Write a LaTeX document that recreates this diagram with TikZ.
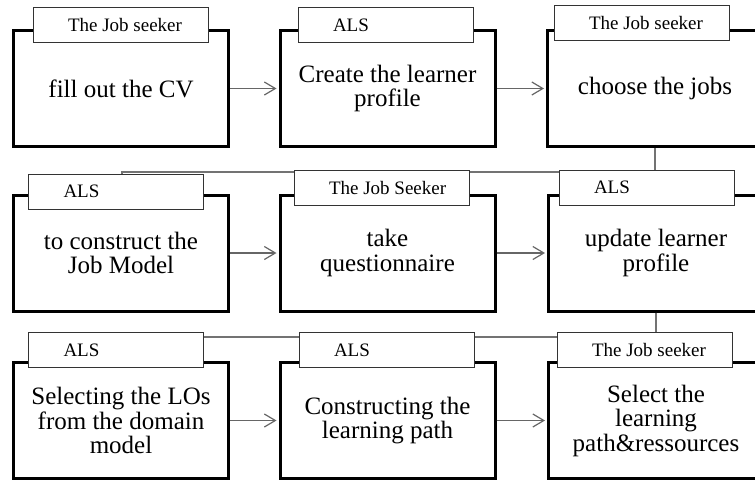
\documentclass[tikz,border=0pt]{standalone}
\usepackage{fontspec}
\setmainfont{Liberation Serif}
\usetikzlibrary{arrows.meta}
\tikzset{
  stepbox/.style={draw, line width=3pt, minimum width=215pt, minimum height=116pt, align=center, inner sep=2pt, font=\fontsize{25}{24.5}\selectfont},
  actor/.style={draw=black!80, line width=0.8pt, fill=white, minimum width=175pt, minimum height=35pt, inner xsep=0pt, font=\fontsize{19}{20}\selectfont},
  flow/.style={draw=black!60, line width=1.2pt, -{Straight Barb[length=11pt,width=13pt]}, shorten >=2pt},
  link/.style={draw=black!55, line width=1.3pt}
}
\newcommand{\who}[1]{\makebox[105pt][l]{#1}}
\begin{document}
\begin{tikzpicture}[x=1pt,y=-1pt]
    \clip (0,0) rectangle (755,482);
    \fill[white] (0,0) rectangle (755,482);

    %steps
    \node[stepbox] (box1) at (121,88.5) {fill out the CV};
    \node[stepbox] (box2) at (387.5,88.5) {Create the learner\\profile};
    \node[stepbox] (box3) at (655,88.5) {choose the jobs};
    \node[stepbox] (box4) at (121,253) {to construct the\\Job Model};
    \node[stepbox] (box5) at (387.5,253) {take\\questionnaire};
    \node[stepbox] (box6) at (656,253) {update learner\\profile};
    \node[stepbox] (box7) at (121,420.5) {Selecting the LOs\\from the domain\\model};
    \node[stepbox] (box8) at (387.5,420.5) {Constructing the\\learning path};
    \node[stepbox] (box9) at (656,420.5) {Select the\\learning\\path\&ressources};

    %arrows
    \draw[flow] (box1) -- (box2);
    \draw[flow] (box2) -- (box3);
    \draw[flow] (box4) -- (box5);
    \draw[flow] (box5) -- (box6);
    \draw[flow] (box7) -- (box8);
    \draw[flow] (box8) -- (box9);

    %row links, drawn before the tabs so these hide them
    \coordinate (bend1) at (122,172);
    \draw[link] (box3.south) |- (bend1) -- ++(0,2); % to next row
    \coordinate (bend2) at (203,337);
    \draw[link] (box6.south) |- (bend2); % to last row

    %who does it
    \node[actor] (tab1) at (120.5,25) {\who{The Job seeker}};
    \node[actor] (tab2) at (385.5,25) {\who{ALS}};
    \node[actor] (tab3) at (641.5,22.5) {\who{The Job seeker}};
    \node[actor] (tab4) at (116,191.5) {\who{ALS}};
    \node[actor] (tab5) at (381.5,187.5) {\who{The Job Seeker}};
    \node[actor] (tab6) at (646.5,187.5) {\who{ALS}};
    \node[actor] (tab7) at (116,350) {\who{ALS}};
    \node[actor] (tab8) at (386.5,350) {\who{ALS}};
    \node[actor] (tab9) at (644.5,350) {\who{The Job seeker}};
\end{tikzpicture}
\end{document}
